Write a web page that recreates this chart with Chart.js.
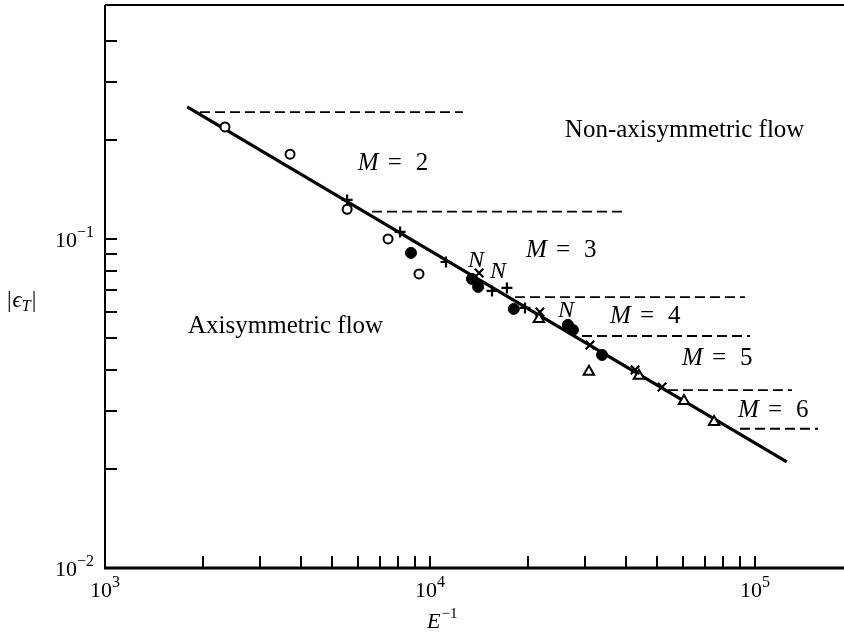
<!DOCTYPE html>
<html>
<head>
<meta charset="utf-8">
<script src="https://cdn.jsdelivr.net/npm/chart.js@4.4.0/dist/chart.umd.min.js"></script>
<style>
    body { margin: 0; background: #fff; }
    #wrap { width: 844px; height: 634px; }
</style>
</head>
<body>
<div id="wrap"><canvas id="chart"></canvas></div>
<script>
// Values: |eps_T| against E^-1 (both log)
const openCircles   = [[2340, 0.219], [3710, 0.181], [5560, 0.123], [7430, 0.100], [9250, 0.0783]];
const filledCircles = [[8740, 0.0907], [13460, 0.0756], [14060, 0.0715], [18110, 0.0613], [26580, 0.0548], [27540, 0.0529], [33840, 0.0444]];
const plusMarks     = [[5560, 0.1314], [8090, 0.105], [11200, 0.0851], [15520, 0.0695], [17250, 0.0710], [19600, 0.0617]];
const crossMarks    = [[14160, 0.0788], [21780, 0.060], [31060, 0.0476], [42760, 0.040], [51760, 0.0355]];
const triangles     = [[21630, 0.0571], [30830, 0.0395], [43950, 0.0384], [60460, 0.0322], [74820, 0.0278]];

// fitted straight line (end points)
const fitLine = [[1790, 0.252], [125300, 0.0210]];

// dashed stability limits for M = 2..6 : [xStart, xEnd, level]
const limits = [
    [1960, 12630, 0.243],
    [6630, 39800, 0.121],
    [18260, 93100, 0.0666],
    [29360, 96500, 0.0507],
    [53950, 130000, 0.0347],
    [89900, 156300, 0.0265]
];

const xRange = [1000, 187900];
const yRange = [0.01, 0.514];
const xMajor = [1e3, 1e4, 1e5];
const yMajor = [0.01, 0.1];
const minorSteps = [2, 3, 4, 5, 6, 7, 8, 9];
const yTickTop = 0.4;

// text notes anchored in data space
const regionNotes = [
    ['Non-axisymmetric flow', 26000, 0.204],
    ['Axisymmetric flow', 1801, 0.0518]
];
const modeNotes = [
    ['2', 5997, 0.162],
    ['3', 19750, 0.0882],
    ['4', 35810, 0.0556],
    ['5', 59630, 0.0414],
    ['6', 88660, 0.0288]
];
const nNotes = [[13090, 0.0822], [15300, 0.0761], [24770, 0.0580]];

const SERIF = '"Liberation Serif", "DejaVu Serif", serif';

function pts(arr) {
    return arr.map(p => ({ x: p[0], y: p[1] }));
}

const datasets = [
    { data: pts(openCircles), pointStyle: 'circle', pointRadius: 4.5, pointBackgroundColor: '#fff', pointBorderColor: '#000', pointBorderWidth: 2, order: 1 },
    { data: pts(filledCircles), pointStyle: 'circle', pointRadius: 5.5, pointBackgroundColor: '#000', pointBorderColor: '#000', pointBorderWidth: 1, order: 1 },
    { data: pts(plusMarks), pointStyle: 'cross', pointRadius: 5.5, pointBorderColor: '#000', pointBorderWidth: 2.2, order: 1 },
    { data: pts(crossMarks), pointStyle: 'crossRot', pointRadius: 6, pointBorderColor: '#000', pointBorderWidth: 2.2, order: 1 },
    { data: pts(triangles), pointStyle: 'triangle', pointRadius: 6, pointBackgroundColor: '#fff', pointBorderColor: '#000', pointBorderWidth: 2, order: 1 },
    { data: pts(fitLine), showLine: true, borderColor: '#000', borderWidth: 3.2, pointRadius: 0, order: 5 }
];

limits.forEach(l => {
    datasets.push({
        data: [{ x: l[0], y: l[2] }, { x: l[1], y: l[2] }],
        showLine: true,
        borderColor: '#000',
        borderWidth: 1.8,
        borderDash: [10, 5],
        pointRadius: 0,
        order: 6
    });
});

// draws the frame, inward ticks and all the labels
const framePlugin = {
    id: 'frame',
    afterDraw(chart) {
        const { ctx, chartArea: a, scales: { x, y } } = chart;
        ctx.save();
        ctx.strokeStyle = '#000';
        ctx.fillStyle = '#000';

        ctx.lineWidth = 2;
        ctx.beginPath();
        ctx.moveTo(a.left, a.top);
        ctx.lineTo(a.right, a.top);
        ctx.moveTo(a.left, a.top);
        ctx.lineTo(a.left, a.bottom);
        ctx.stroke();
        ctx.lineWidth = 3;
        ctx.beginPath();
        ctx.moveTo(a.left - 1, a.bottom);
        ctx.lineTo(a.right, a.bottom);
        ctx.stroke();

        // tick marks pointing inward
        const tickLen = 12;
        ctx.lineWidth = 2;
        ctx.beginPath();
        xMajor.forEach(d => {
            [1].concat(minorSteps).forEach(m => {
                const v = d * m;
                if (v <= xRange[0] || v >= xRange[1]) return;
                const px = Math.round(x.getPixelForValue(v));
                ctx.moveTo(px, a.bottom);
                ctx.lineTo(px, a.bottom - tickLen);
            });
        });
        yMajor.forEach(d => {
            [1].concat(minorSteps).forEach(m => {
                const v = d * m;
                if (v <= yRange[0] || v > yTickTop + 1e-9) return;
                const py = Math.round(y.getPixelForValue(v));
                ctx.moveTo(a.left, py);
                ctx.lineTo(a.left + tickLen, py);
            });
        });
        ctx.stroke();

        // x tick labels 10^n
        ctx.textBaseline = 'alphabetic';
        xMajor.forEach(v => {
            const px = x.getPixelForValue(v);
            const exp = String(Math.round(Math.log10(v)));
            ctx.font = '22px ' + SERIF;
            const wb = ctx.measureText('10').width;
            ctx.font = '16px ' + SERIF;
            const we = ctx.measureText(exp).width;
            const x0 = px - (wb + we) / 2;
            ctx.textAlign = 'left';
            ctx.font = '22px ' + SERIF;
            ctx.fillText('10', x0, a.bottom + 29);
            ctx.font = '16px ' + SERIF;
            ctx.fillText(exp, x0 + wb, a.bottom + 19);
        });

        // y tick labels 10^-n
        yMajor.forEach(v => {
            const py = y.getPixelForValue(v);
            const exp = '\u2212' + String(Math.round(-Math.log10(v)));
            ctx.font = '16px ' + SERIF;
            const we = ctx.measureText(exp).width;
            const xr = a.left - 11;
            ctx.textAlign = 'right';
            ctx.fillText(exp, xr, py - 2);
            ctx.font = '22px ' + SERIF;
            ctx.fillText('10', xr - we, py + 8);
        });

        // axis titles
        ctx.textAlign = 'left';
        ctx.font = '23px ' + SERIF;
        ctx.fillText('|', 7, 307);
        let cx = 7 + ctx.measureText('|').width + 1;
        ctx.font = 'italic 23px ' + SERIF;
        ctx.fillText('\u03F5', cx, 307);
        cx += ctx.measureText('\u03F5').width;
        ctx.font = 'italic 16px ' + SERIF;
        ctx.fillText('T', cx, 311);
        cx += ctx.measureText('T').width + 1;
        ctx.font = '23px ' + SERIF;
        ctx.fillText('|', cx, 307);

        ctx.font = 'italic 22px ' + SERIF;
        const wE = ctx.measureText('E').width;
        ctx.fillText('E', 427, 628);
        ctx.font = '15px ' + SERIF;
        ctx.fillText('\u22121', 427 + wE + 1, 618);

        // region names
        ctx.font = '25px ' + SERIF;
        regionNotes.forEach(n => {
            ctx.fillText(n[0], x.getPixelForValue(n[1]), y.getPixelForValue(n[2]));
        });

        // M = n labels
        modeNotes.forEach(n => {
            const px = x.getPixelForValue(n[1]);
            const py = y.getPixelForValue(n[2]);
            ctx.font = 'italic 25px ' + SERIF;
            ctx.fillText('M', px, py);
            ctx.font = '25px ' + SERIF;
            ctx.fillText('=', px + 30, py);
            ctx.fillText(n[0], px + 58, py);
        });

        // N marks beside points
        ctx.font = 'italic 24px ' + SERIF;
        nNotes.forEach(n => {
            ctx.fillText('N', x.getPixelForValue(n[0]), y.getPixelForValue(n[1]));
        });
        ctx.restore();
    }
};

new Chart(document.getElementById('chart'), {
    type: 'scatter',
    data: { datasets: datasets },
    options: {
        responsive: true,
        maintainAspectRatio: false,
        animation: false,
        layout: { autoPadding: false, padding: { top: 5, right: 0, left: 0, bottom: 0 } },
        plugins: {
            legend: { display: false },
            tooltip: { enabled: false }
        },
        scales: {
            x: {
                type: 'logarithmic',
                min: xRange[0],
                max: xRange[1],
                grid: { display: false },
                border: { display: false },
                ticks: { display: false },
                afterFit: s => { s.height = 66; }
            },
            y: {
                type: 'logarithmic',
                min: yRange[0],
                max: yRange[1],
                grid: { display: false },
                border: { display: false },
                ticks: { display: false },
                afterFit: s => { s.width = 105; }
            }
        }
    },
    plugins: [framePlugin]
});
</script>
</body>
</html>
